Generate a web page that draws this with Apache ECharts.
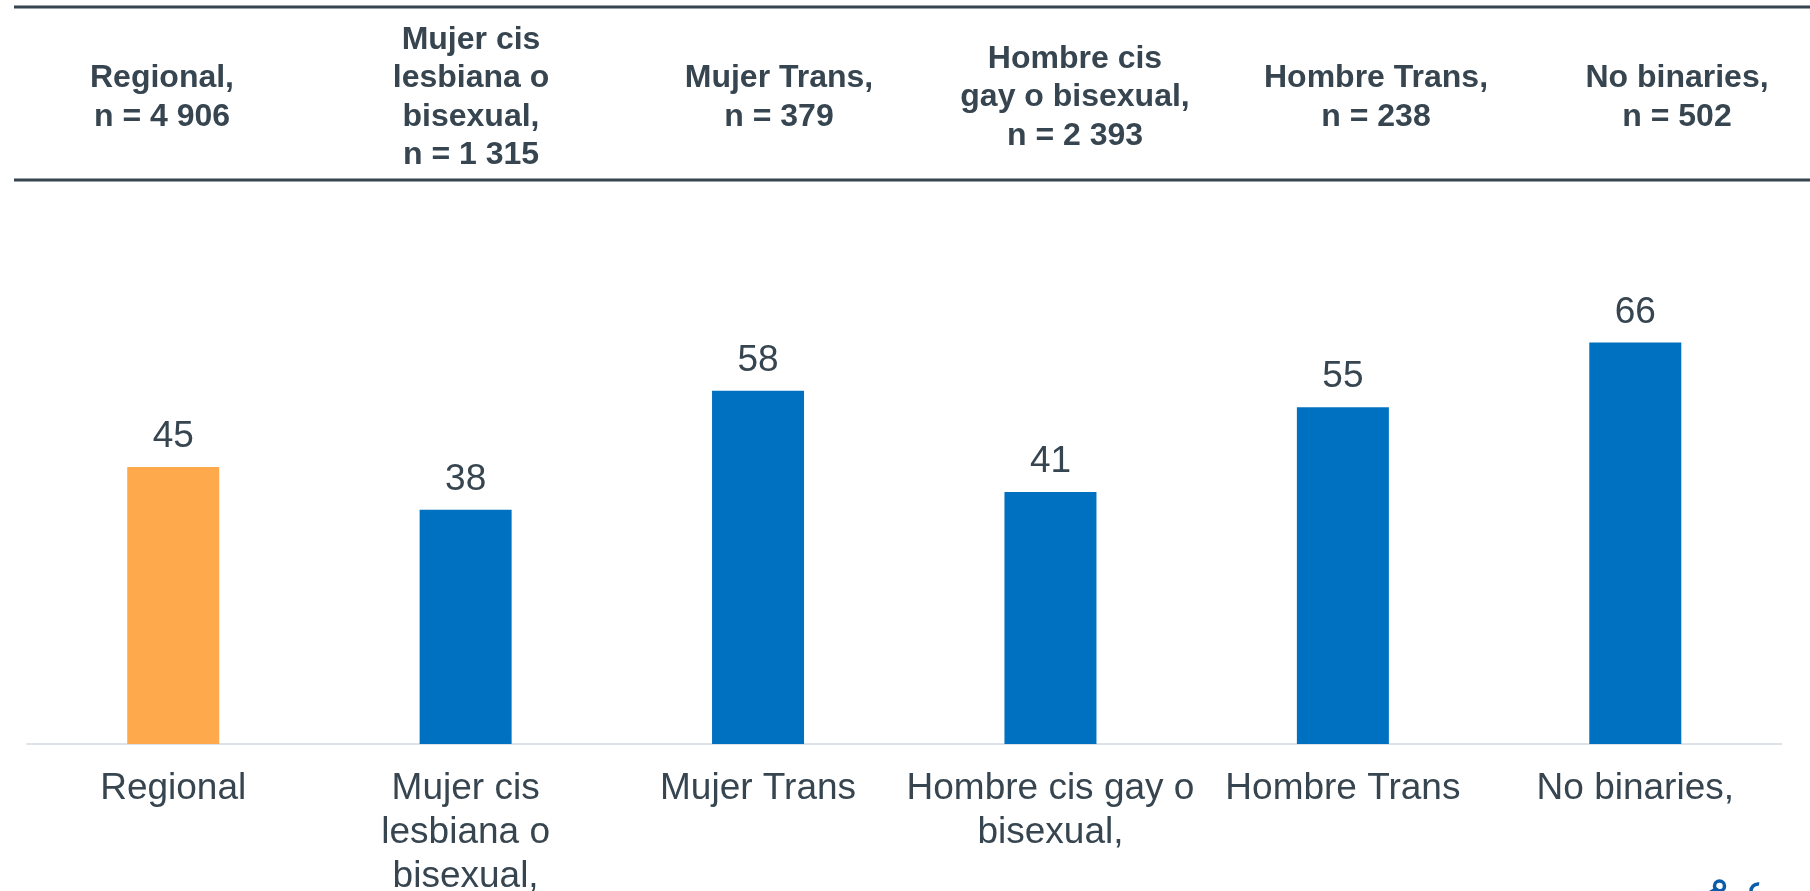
<!DOCTYPE html>
<html><head><meta charset="utf-8">
<style>html,body{margin:0;padding:0;background:#fff;overflow:hidden}#c{width:1810px;height:891px}</style>
<script src="https://cdn.jsdelivr.net/npm/echarts@6/dist/echarts.min.js"></script></head>
<body><div id="c"></div>
<script>
const categories = ['Regional','Mujer cis\nlesbiana o\nbisexual,','Mujer Trans','Hombre cis gay o\nbisexual,','Hombre Trans','No binaries,'];
const values = [45.4,38.4,57.9,41.3,55.2,65.8];
const barColors = ['#FFA94D','#0070C0','#0070C0','#0070C0','#0070C0','#0070C0'];
const headers = ['Regional,\nn = 4 906','Mujer cis\nlesbiana o\nbisexual,\nn = 1 315','Mujer Trans,\nn = 379','Hombre cis\ngay o bisexual,\nn = 2 393','Hombre Trans,\nn = 238','No binaries,\nn = 502'];
const headerCenters = [162,471,779,1075,1376,1677];
const ink = '#36454F';
const chart = echarts.init(document.getElementById('c'));
chart.setOption({
  animation:false,
  backgroundColor:'#fff',
  textStyle:{fontFamily:'"Liberation Sans",Arial,sans-serif'},
  grid:{left:27,right:28.5,top:134,bottom:147,containLabel:false,outerBoundsMode:'none'},
  xAxis:{type:'category',data:categories,
    axisLine:{show:true,lineStyle:{color:'#DDE3E8',width:2}},
    axisTick:{show:false},
    axisLabel:{interval:0,color:ink,fontSize:37,lineHeight:44,margin:23,fontFamily:'"Liberation Sans",Arial,sans-serif',verticalAlign:'top'}},
  yAxis:{type:'value',min:0,max:100,show:false,splitLine:{show:false}},
  series:[{type:'bar',barWidth:92,
    data:values.map((v,i)=>({value:v,itemStyle:{color:barColors[i]}})),
    label:{show:true,position:'top',distance:11.5,color:ink,fontSize:37,fontFamily:'"Liberation Sans",Arial,sans-serif',formatter:p=>Math.round(p.value)}}],
  graphic:[
    {type:'line',shape:{x1:14,y1:7,x2:1810,y2:7},style:{stroke:ink,lineWidth:3}},
    {type:'line',shape:{x1:14,y1:180,x2:1810,y2:180},style:{stroke:ink,lineWidth:3}},
    ...headers.map((t,i)=>({type:'text',x:headerCenters[i],y:97.5,
      style:{text:t,fill:ink,align:'center',verticalAlign:'middle',lineHeight:38.5,font:'bold 32px "Liberation Sans",Arial,sans-serif'}})),
    {type:'circle',shape:{cx:1719.5,cy:886,r:5},style:{fill:'none',stroke:'#0B5CAB',lineWidth:3.5}},
    {type:'polygon',shape:{points:[[1709,891],[1716,887],[1722,891]]},style:{fill:'#0B5CAB'}},
    {type:'arc',shape:{cx:1758,cy:891,r:7,startAngle:Math.PI,endAngle:Math.PI*1.55},style:{fill:'none',stroke:'#0B5CAB',lineWidth:3.5}}
  ]
});
</script></body></html>
